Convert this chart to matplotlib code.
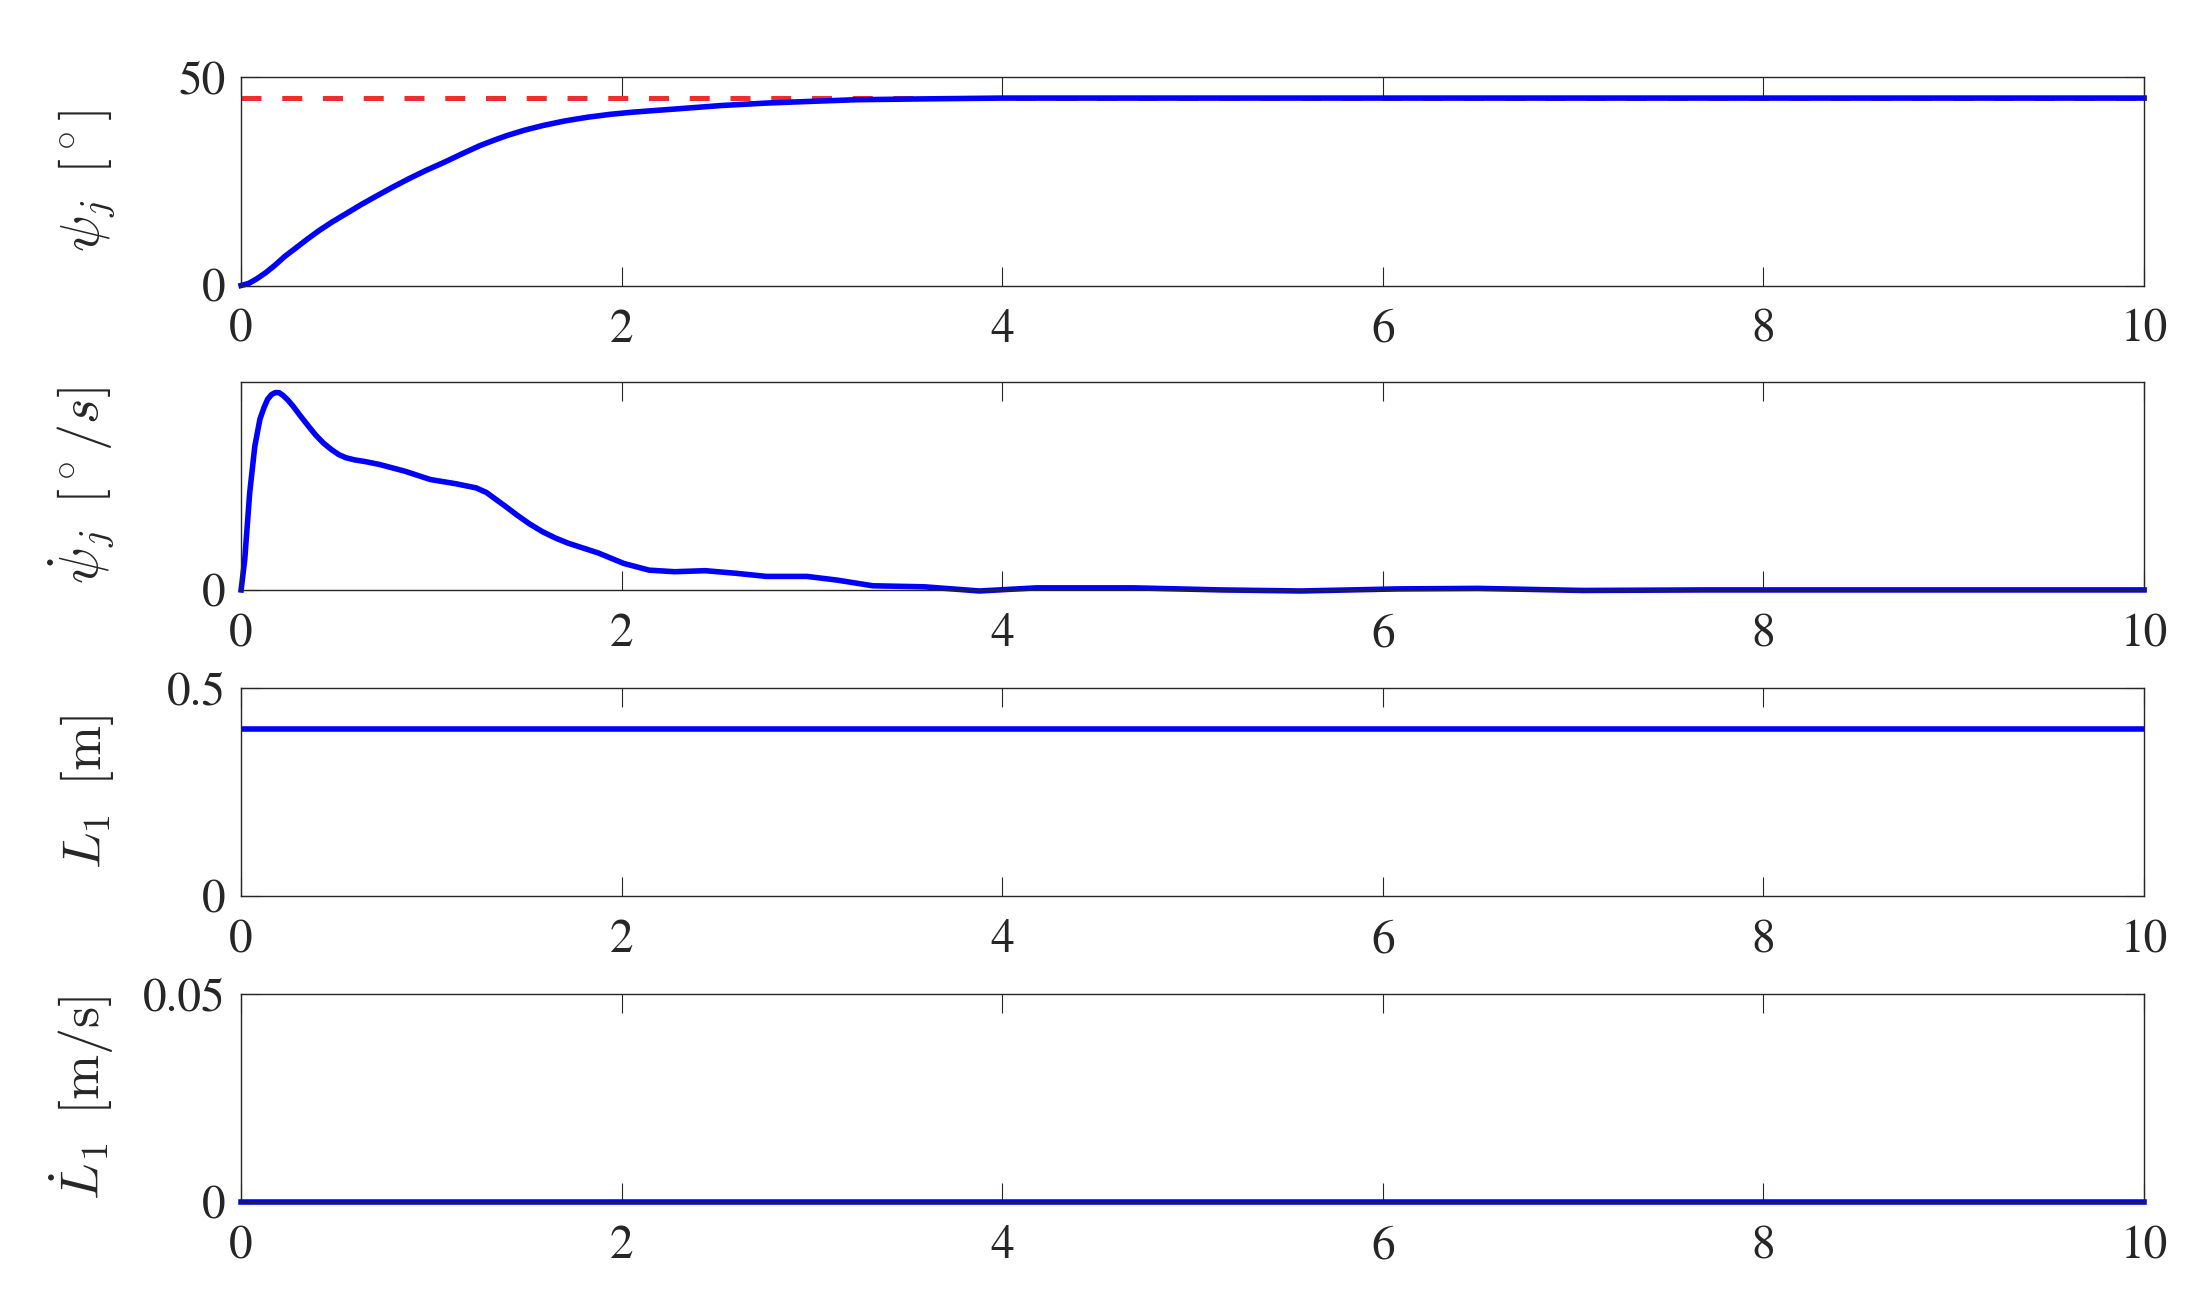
import matplotlib
matplotlib.use('Agg')
import matplotlib.pyplot as plt

plt.rcParams['font.family'] = ['STIXGeneral', 'DejaVu Serif']
plt.rcParams['mathtext.fontset'] = 'cm'

# time axis
t_end = 10
xticks = [0, 2, 4, 6, 8, 10]

# psi_j [deg]
t_psi = [0, 0.04, 0.082, 0.13, 0.176, 0.23, 0.293, 0.35, 0.41, 0.48, 0.55, 0.63,
         0.716, 0.8, 0.88, 0.97, 1.068, 1.16, 1.256, 1.33, 1.397, 1.49, 1.585,
         1.7, 1.82, 1.94, 2.054, 2.17, 2.29, 2.52, 2.76, 2.99, 3.23, 3.58, 4.0, 10]
psi = [0, 0.5, 1.6, 3.1, 4.8, 7.0, 9.2, 11.2, 13.2, 15.3, 17.2, 19.4,
       21.6, 23.7, 25.6, 27.6, 29.6, 31.6, 33.6, 34.9, 36.0, 37.3, 38.4,
       39.5, 40.4, 41.1, 41.6, 42.0, 42.4, 43.2, 43.8, 44.2, 44.6, 44.8, 45.0, 45.0]
psi_ref = 45

# psi_j dot [deg/s]
t_dpsi = [0, 0.019, 0.045, 0.072, 0.099, 0.12, 0.139, 0.159, 0.179, 0.199, 0.219,
          0.245, 0.273, 0.31, 0.353, 0.393, 0.433, 0.473, 0.513, 0.55, 0.594,
          0.66, 0.727, 0.861, 0.995, 1.128, 1.235, 1.29, 1.342, 1.395, 1.449,
          1.515, 1.583, 1.65, 1.717, 1.877, 2.01, 2.144, 2.278, 2.439, 2.6,
          2.76, 2.973, 3.13, 3.32, 3.59, 3.88, 4.18, 4.69, 5.15, 5.57, 6.08,
          6.5, 7.05, 7.68, 8.5, 10]
dpsi = [0, 5.8, 18.6, 27.6, 32.8, 35.0, 36.6, 37.5, 37.9, 37.9, 37.4,
        36.5, 35.3, 33.5, 31.5, 29.7, 28.2, 27.0, 26.0, 25.4, 25.0,
        24.6, 24.1, 22.8, 21.2, 20.4, 19.6, 18.7, 17.3, 15.9, 14.4,
        12.7, 11.2, 10.0, 9.0, 7.1, 5.1, 3.8, 3.5, 3.7, 3.2,
        2.6, 2.6, 1.9, 0.8, 0.6, -0.2, 0.4, 0.4, 0.0, -0.2, 0.2,
        0.3, -0.1, 0.0, 0.0, 0.0]

# L1 [m] and L1 dot [m/s]
t_L = [0, 10]
L1 = [0.4, 0.4]
dL1 = [0, 0]

fig = plt.figure(figsize=(22.12, 12.96), dpi=100)
left, width = 0.1090, 0.8603
bottoms = [0.7797, 0.5448, 0.3086, 0.0725]
h = 0.1607
axes = [fig.add_axes([left, b, width, h]) for b in bottoms]

blue = '#0000ff'
axes[0].plot([0, t_end], [psi_ref, psi_ref], color='#ee2e2e', lw=3.6, dashes=(4.0, 4.15))
axes[0].plot(t_psi, psi, color=blue, lw=4.0, clip_on=False)
axes[1].plot(t_dpsi, dpsi, color=blue, lw=4.0, clip_on=False)
axes[2].plot(t_L, L1, color=blue, lw=4.0)
axes[3].plot(t_L, dL1, color=blue, lw=4.0, clip_on=False)

ylims = [(0, 50), (0, 40), (0, 0.5), (0, 0.05)]
yticks = [[0, 50], [0], [0, 0.5], [0, 0.05]]
yticklabels = [['0', '50'], ['0'], ['0', '0.5'], ['0', '0.05']]
ylabels = [r'$\psi_j\ \,[^\circ]$', r'$\dot{\psi}_j\ \,[^\circ/s]$',
           r'$L_1\ \,[\mathrm{m}]$', r'$\dot{L}_1\ \,[\mathrm{m/s}]$']

for ax, yl, yt, ytl, lab in zip(axes, ylims, yticks, yticklabels, ylabels):
    ax.set_xlim(0, t_end)
    ax.set_ylim(*yl)
    ax.set_xticks(xticks)
    ax.set_xticklabels([str(x) for x in xticks])
    ax.set_yticks(yt)
    ax.set_yticklabels(ytl)
    ax.tick_params(direction='in', length=13.5, width=0.8, color='#262626',
                   top=True, right=True, labelsize=34, labelcolor='#262626')
    ax.tick_params(axis='x', pad=17)
    ax.tick_params(axis='y', pad=11)
    for s in ax.spines.values():
        s.set_color('#262626')
        s.set_linewidth(1.0)
    ax.set_ylabel(lab, fontsize=39, color='#262626')
    ax.yaxis.set_label_coords(-0.066, 0.5)

plt.savefig('out.png', dpi=100)
